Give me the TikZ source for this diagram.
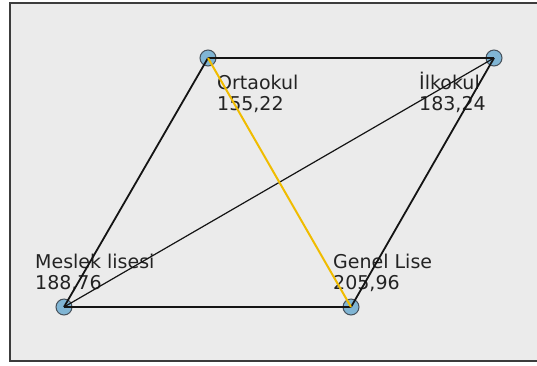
\documentclass[tikz,border=0pt]{standalone}
\usepackage{fontspec}
\setmainfont{DejaVu Sans}
\definecolor{bgc}{RGB}{235,235,235}
\definecolor{framec}{RGB}{60,60,60}
\definecolor{vertfill}{RGB}{128,181,212}
\definecolor{vertline}{RGB}{70,80,90}
\definecolor{edgec}{RGB}{20,20,20}
\definecolor{hilite}{RGB}{240,188,0}
\definecolor{textc}{RGB}{35,35,35}
\begin{document}
\begin{tikzpicture}[x=1pt,y=-1pt,
  vert/.style={circle,minimum size=16pt,inner sep=0pt,fill=vertfill,draw=vertline,line width=1pt},
  lab/.style={anchor=base west,inner sep=0pt,align=left,text=textc,font=\fontsize{19}{21}\selectfont},
  edge/.style={draw=edgec,line width=1.8pt},
  thinedge/.style={draw=edgec,line width=1.2pt},
  hiedge/.style={draw=hilite,line width=2pt}]
\useasboundingbox (0,0) rectangle (537,365);
\fill[white] (0,0) rectangle (537,365);
\draw[fill=bgc,draw=framec,line width=1.5pt] (10,3) rectangle (560,361);
% vertices
\node[vert] (ort) at (208,58) {};
\node[vert] (ilk) at (494,58) {};
\node[vert] (mes) at (64,307) {};
\node[vert] (gen) at (351,307) {};
% labels (anchor = baseline of the last line)
\node[lab] (ortl) at (217,110) {Ortaokul\\155,22};
\node[lab] (ilkl) at (419,110) {İlkokul\\183,24};
\node[lab] (mesl) at (35,289) {Meslek lisesi\\188,76};
\node[lab] (genl) at (333,289) {Genel Lise\\205,96};
% edges
\draw[edge] (ort.center) -- (ilk.center);
\draw[edge] (ort.center) -- (mes.center);
\draw[edge] (mes.center) -- (gen.center);
\draw[edge] (gen.center) -- (ilk.center);
\draw[thinedge] (mes.center) -- (ilk.center);
\draw[hiedge] (ort.center) -- (gen.center);
\end{tikzpicture}
\end{document}
